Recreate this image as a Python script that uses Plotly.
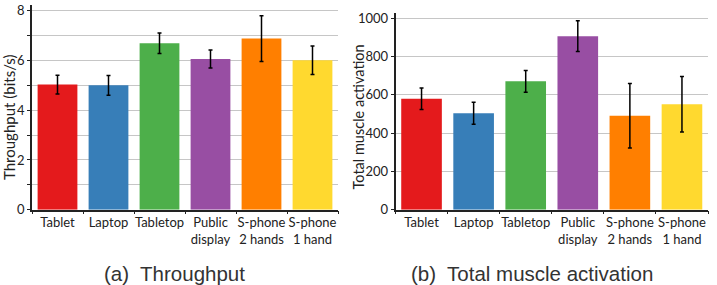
import plotly.graph_objects as go

categories = ["Tablet", "Laptop", "Tabletop", "Public<br>display", "S-phone<br>2 hands", "S-phone<br>1 hand"]
colors = ["#e41a1c", "#377eb8", "#4daf4a", "#984ea3", "#ff7f00", "#ffd92f"]

throughput = [5.03, 5.0, 6.69, 6.06, 6.88, 6.01]
throughput_err = [0.38, 0.4, 0.41, 0.36, 0.92, 0.57]

muscle = [580, 504, 671, 907, 491, 551]
muscle_err = [56, 57, 57, 80, 169, 145]

tick_font = dict(family="Lato, Open Sans, sans-serif", size=13, color="#222")
title_font = dict(family="Lato, Open Sans, sans-serif", size=14.5, color="#222")
cap_font = dict(family="Liberation Sans, Arial, sans-serif", size=20.5, color="#333")

fig = go.Figure()
fig.add_trace(go.Bar(
    x=categories, y=throughput, marker=dict(color=colors, line=dict(width=0)),
    error_y=dict(type="data", array=throughput_err, color="black", thickness=1.5, width=2),
    xaxis="x", yaxis="y", width=0.78, showlegend=False))
fig.add_trace(go.Bar(
    x=categories, y=muscle, marker=dict(color=colors, line=dict(width=0)),
    error_y=dict(type="data", array=muscle_err, color="black", thickness=1.5, width=2),
    xaxis="x2", yaxis="y2", width=0.78, showlegend=False))

grid_color = "#c6c6c6"
common_x = dict(showline=True, linecolor="#222", linewidth=1.5, ticks="outside", ticklen=3,
                tickcolor="#222", tickson="boundaries", tickfont=tick_font, showgrid=False,
                tickangle=0, automargin=False)
common_y = dict(showline=True, linecolor="#222", linewidth=1.5, ticks="outside", ticklen=3,
                tickcolor="#222", tickfont=tick_font, showgrid=True, gridcolor=grid_color,
                gridwidth=1.3, zeroline=False, automargin=False)

fig.update_layout(
    width=717, height=285, margin=dict(l=0, r=0, t=0, b=0),
    paper_bgcolor="white", plot_bgcolor="white", bargap=0.22,
    xaxis=dict(domain=[32/717, 338/717], anchor="y", **common_x),
    yaxis=dict(domain=[75.3/285, 280/285], anchor="x", range=[0, 8.23], dtick=2,
               minor=dict(dtick=1, showgrid=True, gridcolor=grid_color, gridwidth=1.3,
                          ticks="outside", ticklen=3, tickcolor="#222"),
               **common_y),
    xaxis2=dict(domain=[395.5/717, 708/717], anchor="y2", **common_x),
    yaxis2=dict(domain=[75.3/285, 272/285], anchor="x2", range=[0, 1028], dtick=200,
                **common_y),
    annotations=[
        dict(text="Throughput (bits/s)", x=9/717, y=(285-117)/285, xref="paper", yref="paper",
             textangle=-90, showarrow=False, xanchor="center", yanchor="middle",
             font=dict(title_font, size=15)),
        dict(text="Total muscle activation", x=358/717, y=(285-117.5)/285, xref="paper", yref="paper",
             textangle=-90, showarrow=False, xanchor="center", yanchor="middle", font=title_font),
        dict(text="(a)  Throughput", x=174/717, y=12/285, xref="paper", yref="paper",
             showarrow=False, xanchor="center", yanchor="middle", font=cap_font),
        dict(text="(b)  Total muscle activation", x=532/717, y=12/285, xref="paper", yref="paper",
             showarrow=False, xanchor="center", yanchor="middle", font=cap_font),
    ],
)

fig.write_html("out.html")
